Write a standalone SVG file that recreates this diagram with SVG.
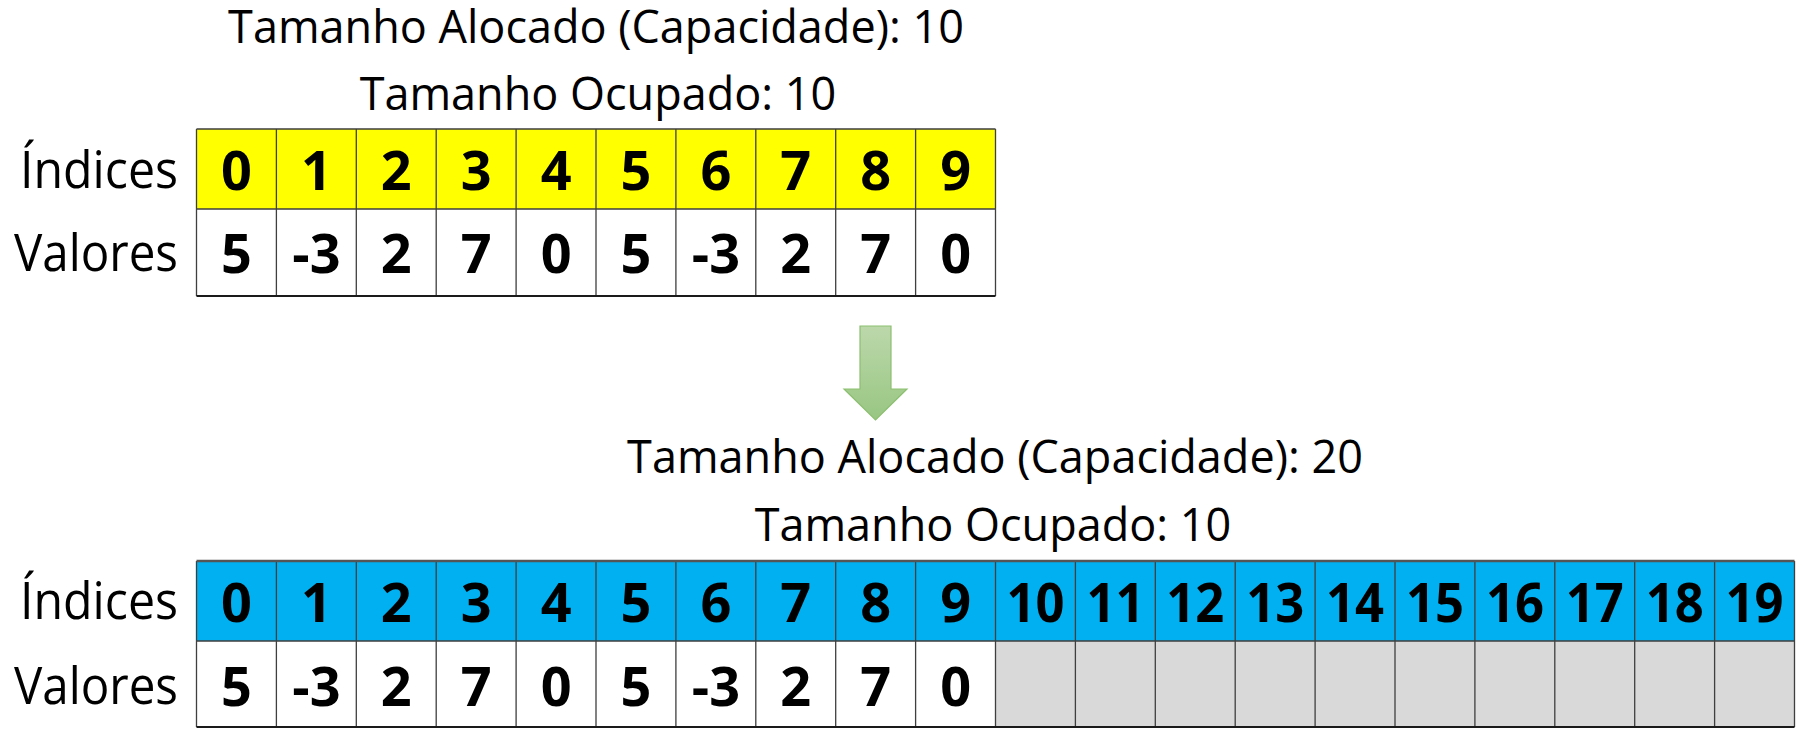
<svg xmlns="http://www.w3.org/2000/svg" width="1804" height="740" viewBox="0 0 1804 740">
<defs>
<linearGradient id="gArrow" x1="0" y1="0" x2="0" y2="1">
<stop offset="0" stop-color="#BCD8AB"/>
<stop offset="1" stop-color="#98C682"/>
</linearGradient>
<style>
.title{font-family:"Open Sans","Liberation Sans",sans-serif;font-size:45px;fill:#000;text-anchor:middle}
.lbl{font-family:"Open Sans","Liberation Sans",sans-serif;font-size:51px;fill:#000;text-anchor:end}
.num{font-family:"Open Sans","Liberation Sans",sans-serif;font-size:54px;font-weight:bold;fill:#000;text-anchor:middle}
.yel{fill:#FFFF00}
.blu{fill:#00B0F0}
.wht{fill:#FFFFFF}
.gry{fill:#D9D9D9}
.grid{stroke:#3F3F3F;stroke-width:1.3;fill:none}
.edge{stroke:#1A1A1A;stroke-width:2;fill:none}
</style>
</defs>
<rect width="1804" height="740" fill="#FFFFFF"/>

<g id="titles-top">
<text class="title" x="596" y="43">Tamanho Alocado (Capacidade): 10</text>
<text class="title" x="598" y="110">Tamanho Ocupado: 10</text>
</g>

<g id="labels-top">
<text class="lbl" x="178" y="188" textLength="158" lengthAdjust="spacingAndGlyphs">Índices</text>
<text class="lbl" x="178" y="271" textLength="164" lengthAdjust="spacingAndGlyphs">Valores</text>
</g>

<g id="array-top">
<rect class="yel" x="196.5" y="129" width="799" height="80"/>
<rect class="wht" x="196.5" y="209" width="799" height="87"/>
<path class="grid" d="M196.5 129H995.5M196.5 209H995.5M196.5 129V296M276.4 129V296M356.3 129V296M436.2 129V296M516.1 129V296M596 129V296M675.9 129V296M755.8 129V296M835.7 129V296M915.6 129V296M995.5 129V296"/>
<path class="edge" d="M196.5 296H995.5"/>
<g>
<text class="num" x="236.5" y="190">0</text>
<text class="num" x="316.4" y="190">1</text>
<text class="num" x="396.3" y="190">2</text>
<text class="num" x="476.2" y="190">3</text>
<text class="num" x="556.1" y="190">4</text>
<text class="num" x="636" y="190">5</text>
<text class="num" x="715.9" y="190">6</text>
<text class="num" x="795.8" y="190">7</text>
<text class="num" x="875.7" y="190">8</text>
<text class="num" x="955.6" y="190">9</text>
</g>
<g>
<text class="num" x="236.5" y="273">5</text>
<text class="num" x="316.4" y="273">-3</text>
<text class="num" x="396.3" y="273">2</text>
<text class="num" x="476.2" y="273">7</text>
<text class="num" x="556.1" y="273">0</text>
<text class="num" x="636" y="273">5</text>
<text class="num" x="715.9" y="273">-3</text>
<text class="num" x="795.8" y="273">2</text>
<text class="num" x="875.7" y="273">7</text>
<text class="num" x="955.6" y="273">0</text>
</g>
</g>

<g id="connectors">
<path d="M860 326H891V389H907L875.5 420L844 389H860Z" fill="url(#gArrow)" stroke="#8CBF70" stroke-width="1.2"/>
</g>

<g id="titles-bottom">
<text class="title" x="995" y="473">Tamanho Alocado (Capacidade): 20</text>
<text class="title" x="993" y="541">Tamanho Ocupado: 10</text>
</g>

<g id="labels-bottom">
<text class="lbl" x="178" y="619" textLength="158" lengthAdjust="spacingAndGlyphs">Índices</text>
<text class="lbl" x="178" y="704" textLength="164" lengthAdjust="spacingAndGlyphs">Valores</text>
</g>

<g id="array-bottom">
<rect class="blu" x="196.5" y="561" width="1598" height="80"/>
<rect class="wht" x="196.5" y="641" width="799" height="86"/>
<rect class="gry" x="995.5" y="641" width="799" height="86"/>
<path class="grid" d="M196.5 641H1794.5M196.5 561V727M276.4 561V727M356.3 561V727M436.2 561V727M516.1 561V727M596 561V727M675.9 561V727M755.8 561V727M835.7 561V727M915.6 561V727M995.5 561V727M1075.4 561V727M1155.3 561V727M1235.2 561V727M1315.1 561V727M1395 561V727M1474.9 561V727M1554.8 561V727M1634.7 561V727M1714.6 561V727M1794.5 561V727"/>
<path d="M196.5 561H1794.5" stroke="#555555" stroke-width="2.5" fill="none"/>
<path class="edge" d="M196.5 727H1794.5"/>
<g>
<text class="num" x="236.5" y="622">0</text>
<text class="num" x="316.4" y="622">1</text>
<text class="num" x="396.3" y="622">2</text>
<text class="num" x="476.2" y="622">3</text>
<text class="num" x="556.1" y="622">4</text>
<text class="num" x="636" y="622">5</text>
<text class="num" x="715.9" y="622">6</text>
<text class="num" x="795.8" y="622">7</text>
<text class="num" x="875.7" y="622">8</text>
<text class="num" x="955.6" y="622">9</text>
<text class="num" x="1035.5" y="622" textLength="58" lengthAdjust="spacingAndGlyphs">10</text>
<text class="num" x="1115.4" y="622" textLength="58" lengthAdjust="spacingAndGlyphs">11</text>
<text class="num" x="1195.3" y="622" textLength="58" lengthAdjust="spacingAndGlyphs">12</text>
<text class="num" x="1275.2" y="622" textLength="58" lengthAdjust="spacingAndGlyphs">13</text>
<text class="num" x="1355.1" y="622" textLength="58" lengthAdjust="spacingAndGlyphs">14</text>
<text class="num" x="1435" y="622" textLength="58" lengthAdjust="spacingAndGlyphs">15</text>
<text class="num" x="1514.9" y="622" textLength="58" lengthAdjust="spacingAndGlyphs">16</text>
<text class="num" x="1594.8" y="622" textLength="58" lengthAdjust="spacingAndGlyphs">17</text>
<text class="num" x="1674.7" y="622" textLength="58" lengthAdjust="spacingAndGlyphs">18</text>
<text class="num" x="1754.6" y="622" textLength="58" lengthAdjust="spacingAndGlyphs">19</text>
</g>
<g>
<text class="num" x="236.5" y="706">5</text>
<text class="num" x="316.4" y="706">-3</text>
<text class="num" x="396.3" y="706">2</text>
<text class="num" x="476.2" y="706">7</text>
<text class="num" x="556.1" y="706">0</text>
<text class="num" x="636" y="706">5</text>
<text class="num" x="715.9" y="706">-3</text>
<text class="num" x="795.8" y="706">2</text>
<text class="num" x="875.7" y="706">7</text>
<text class="num" x="955.6" y="706">0</text>
</g>
</g>
</svg>
